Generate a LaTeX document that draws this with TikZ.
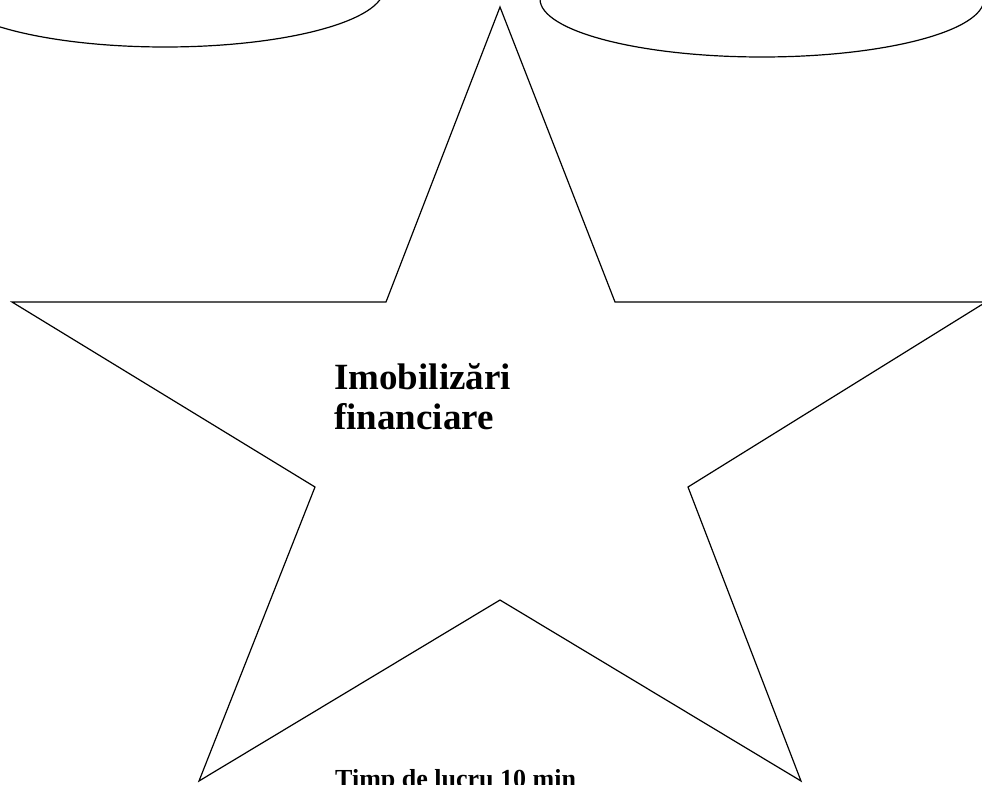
\documentclass[tikz,border=0pt]{standalone}
\usepackage{fontspec}
\setmainfont{Liberation Serif}
\begin{document}
\begin{tikzpicture}[x=1pt,y=-1pt,
  outline/.style={draw=black,line width=1.2pt,line join=miter},
  lbl/.style={font=\fontsize{37}{40}\selectfont\bfseries,align=left,inner sep=0pt},
  lblsmall/.style={font=\fontsize{26}{30}\selectfont\bfseries,inner sep=0pt}]
\useasboundingbox (0,0) rectangle (982,784);
\begin{scope}
\clip (0,0) rectangle (982,784);
\draw[outline] (165,-11.6) ellipse [x radius=219, y radius=58.6];
\draw[outline] (762,-1) ellipse [x radius=222, y radius=58];
\draw[outline] (500,7) -- (615,302) -- (986,302) -- (688,487) -- (801,781)
  -- (500,600) -- (199,781) -- (315,487) -- (12,302) -- (386,302) -- cycle;
\end{scope}
\node[lbl,anchor=base west] (t1) at (334,429) {Imobilizări\\financiare};
\node[lblsmall,anchor=base west] (t2) at (335,787) {Timp de lucru 10 min};
\end{tikzpicture}
\end{document}
